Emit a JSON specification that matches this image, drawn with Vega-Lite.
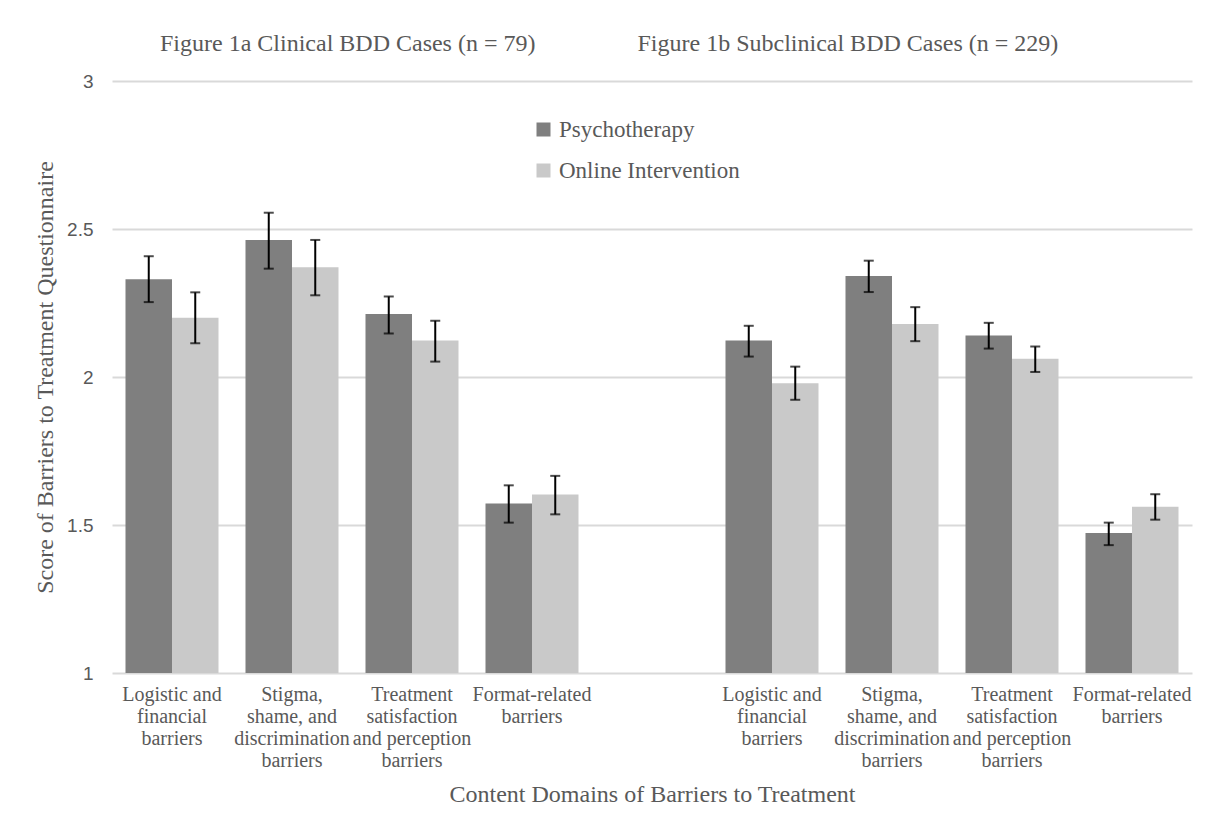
{
  "$schema": "https://vega.github.io/schema/vega-lite/v6.json",
  "autosize": "none",
  "width": 1080,
  "height": 592,
  "padding": {"left": 112, "top": 81, "right": 20, "bottom": 159},
  "background": "white",
  "title": {
    "text": "Figure 1a Clinical BDD Cases (n = 79)\u00a0\u00a0\u00a0\u00a0\u00a0\u00a0\u00a0\u00a0\u00a0\u00a0\u00a0\u00a0\u00a0\u00a0\u00a0\u00a0\u00a0Figure 1b Subclinical BDD Cases (n = 229)",
    "anchor": "start",
    "frame": "group",
    "dx": 48,
    "offset": 16,
    "font": "Liberation Serif",
    "fontSize": 24,
    "fontWeight": "normal",
    "color": "#595959"
  },
  "config": {
    "view": {"stroke": null},
    "axis": {"labelFont": "Liberation Serif", "titleFont": "Liberation Serif", "labelColor": "#595959", "titleColor": "#595959", "titleFontWeight": "normal"}
  },
  "data": {
    "values": [
      {"slot": "1a|Logistic and|financial|barriers", "type": "Psychotherapy", "mean": 2.33, "lo": 2.253, "hi": 2.408},
      {"slot": "1a|Logistic and|financial|barriers", "type": "Online Intervention", "mean": 2.20, "lo": 2.114, "hi": 2.286},
      {"slot": "1a|Stigma,|shame, and|discrimination|barriers", "type": "Psychotherapy", "mean": 2.463, "lo": 2.366, "hi": 2.555},
      {"slot": "1a|Stigma,|shame, and|discrimination|barriers", "type": "Online Intervention", "mean": 2.371, "lo": 2.276, "hi": 2.463},
      {"slot": "1a|Treatment|satisfaction|and perception|barriers", "type": "Psychotherapy", "mean": 2.213, "lo": 2.147, "hi": 2.272},
      {"slot": "1a|Treatment|satisfaction|and perception|barriers", "type": "Online Intervention", "mean": 2.123, "lo": 2.052, "hi": 2.19},
      {"slot": "1a|Format-related|barriers", "type": "Psychotherapy", "mean": 1.573, "lo": 1.508, "hi": 1.634},
      {"slot": "1a|Format-related|barriers", "type": "Online Intervention", "mean": 1.603, "lo": 1.536, "hi": 1.666},
      {"slot": "1b|Logistic and|financial|barriers", "type": "Psychotherapy", "mean": 2.123, "lo": 2.069, "hi": 2.173},
      {"slot": "1b|Logistic and|financial|barriers", "type": "Online Intervention", "mean": 1.979, "lo": 1.923, "hi": 2.035},
      {"slot": "1b|Stigma,|shame, and|discrimination|barriers", "type": "Psychotherapy", "mean": 2.341, "lo": 2.287, "hi": 2.393},
      {"slot": "1b|Stigma,|shame, and|discrimination|barriers", "type": "Online Intervention", "mean": 2.179, "lo": 2.121, "hi": 2.236},
      {"slot": "1b|Treatment|satisfaction|and perception|barriers", "type": "Psychotherapy", "mean": 2.14, "lo": 2.096, "hi": 2.183},
      {"slot": "1b|Treatment|satisfaction|and perception|barriers", "type": "Online Intervention", "mean": 2.062, "lo": 2.017, "hi": 2.103},
      {"slot": "1b|Format-related|barriers", "type": "Psychotherapy", "mean": 1.473, "lo": 1.432, "hi": 1.508},
      {"slot": "1b|Format-related|barriers", "type": "Online Intervention", "mean": 1.562, "lo": 1.518, "hi": 1.604}
    ]
  },
  "encoding": {
    "x": {
      "field": "slot",
      "type": "nominal",
      "scale": {
        "domain": [
          "1a|Logistic and|financial|barriers",
          "1a|Stigma,|shame, and|discrimination|barriers",
          "1a|Treatment|satisfaction|and perception|barriers",
          "1a|Format-related|barriers",
          "gap",
          "1b|Logistic and|financial|barriers",
          "1b|Stigma,|shame, and|discrimination|barriers",
          "1b|Treatment|satisfaction|and perception|barriers",
          "1b|Format-related|barriers"
        ],
        "paddingInner": 0.225,
        "paddingOuter": 0.1125
      },
      "axis": {
        "title": "Content Domains of Barriers to Treatment",
        "titleFontSize": 24,
        "titlePadding": 12,
        "labelAngle": 0,
        "labelFontSize": 20,
        "labelLineHeight": 22,
        "labelPadding": 11,
        "labelExpr": "datum.value == 'gap' ? '' : split(slice(datum.value, 3), '|')",
        "domain": false,
        "ticks": false,
        "labelLimit": 300
      }
    },
    "xOffset": {
      "field": "type",
      "type": "nominal",
      "sort": ["Psychotherapy", "Online Intervention"],
      "scale": {"paddingInner": 0, "paddingOuter": 0}
    }
  },
  "layer": [
    {
      "mark": {"type": "bar"},
      "encoding": {
        "y": {
          "field": "mean",
          "type": "quantitative",
          "scale": {"domain": [1, 3], "zero": false, "nice": false},
          "axis": {
            "title": "Score of Barriers to Treatment Questionnaire",
            "titleFontSize": 24,
            "titlePadding": 9,
            "values": [1, 1.5, 2, 2.5, 3],
            "format": ".1~f",
            "labelFont": "Liberation Sans",
            "labelFontSize": 19,
            "labelPadding": 19,
            "domain": false,
            "ticks": false,
            "gridColor": "#d9d9d9",
            "gridWidth": 2
          }
        },
        "y2": {"datum": 1},
        "color": {
          "field": "type",
          "type": "nominal",
          "sort": ["Psychotherapy", "Online Intervention"],
          "scale": {"domain": ["Psychotherapy", "Online Intervention"], "range": ["#7f7f7f", "#c9c9c9"]},
          "legend": {
            "title": null,
            "orient": "none",
            "legendX": 420,
            "legendY": 37,
            "symbolType": "square",
            "symbolSize": 196,
            "symbolStrokeWidth": 0,
            "symbolOpacity": 1,
            "labelFont": "Liberation Serif",
            "labelFontSize": 23,
            "labelColor": "#595959",
            "labelOffset": 4,
            "labelLimit": 400,
            "rowPadding": 17
          }
        }
      }
    },
    {
      "mark": {"type": "rule", "color": "black", "strokeWidth": 2},
      "encoding": {
        "y": {"field": "lo", "type": "quantitative"},
        "y2": {"field": "hi"}
      }
    },
    {
      "mark": {"type": "tick", "color": "black", "thickness": 2, "size": 10, "orient": "horizontal"},
      "encoding": {
        "y": {"field": "lo", "type": "quantitative"}
      }
    },
    {
      "mark": {"type": "tick", "color": "black", "thickness": 2, "size": 10, "orient": "horizontal"},
      "encoding": {
        "y": {"field": "hi", "type": "quantitative"}
      }
    }
  ]
}
